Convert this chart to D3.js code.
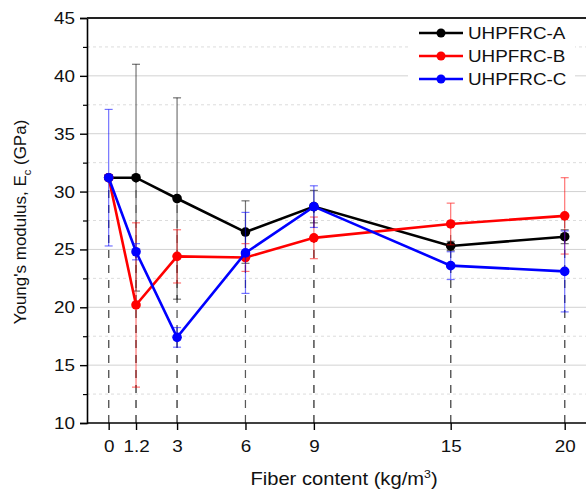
<!DOCTYPE html>
<html><head><meta charset="utf-8">
<script src="https://cdn.jsdelivr.net/npm/d3@7"></script>
<style>body{margin:0;background:#fff}svg{display:block}text{font-family:"Liberation Sans",Arial,sans-serif;fill:#111}</style>
</head><body><svg id="c" width="586" height="493"></svg>
<script>
const fiber = [0, 1.2, 3, 6, 9, 15, 20];
const xTickLabels = ["0", "1.2", "3", "6", "9", "15", "20"];
const yTicks = [10, 15, 20, 25, 30, 35, 40, 45];
const seriesNames = ["UHPFRC-A", "UHPFRC-B", "UHPFRC-C"];
const seriesColors = ["#000000", "#ff0000", "#0000ff"];
const valuesA = [31.2, 31.2, 29.4, 26.5, 28.7, 25.3, 26.1];
const errA    = [0, 9.8, 8.7, 2.7, 1.4, 0.4, 0.6];
const valuesB = [31.2, 20.2, 24.4, 24.3, 26.0, 27.2, 27.9];
const errB    = [0, 7.1, 2.3, 1.2, 1.8, 1.8, 3.3];
const valuesC = [31.2, 24.8, 17.4, 24.7, 28.7, 23.6, 23.1];
const errC    = [5.9, 0.7, 0.85, 3.5, 1.8, 1.2, 3.5];

const series = [
  {name: seriesNames[0], color: seriesColors[0], vals: valuesA, err: errA},
  {name: seriesNames[1], color: seriesColors[1], vals: valuesB, err: errB},
  {name: seriesNames[2], color: seriesColors[2], vals: valuesC, err: errC}
];

const svg = d3.select("#c");
const L = 87, R = 587.5, T = 18, B = 423;
const SX = 1.11; // horizontal text stretch
const x = d3.scaleLinear().domain([-0.95, 21]).range([L, R]);
const y = d3.scaleLinear().domain([10, 45]).range([B, T]);

// gridlines
const minor = d3.range(12.5, 45, 5);
svg.append("g").selectAll("line").data(minor).join("line")
  .attr("x1", L).attr("x2", 586).attr("y1", d => y(d)).attr("y2", d => y(d))
  .attr("stroke", "#dcdcdc").attr("stroke-width", 1).attr("stroke-dasharray", "3,3");
svg.append("g").selectAll("line").data(yTicks.filter(d => d > 10 && d < 45)).join("line")
  .attr("x1", L).attr("x2", 586).attr("y1", d => y(d)).attr("y2", d => y(d))
  .attr("stroke", "#d2d2d2").attr("stroke-width", 1);

// legend background
svg.append("rect").attr("x", 408).attr("y", 20).attr("width", 167).attr("height", 74).attr("fill", "#fff");

// drop lines
series.forEach(s => {
  svg.append("g").selectAll("line").data(fiber).join("line")
    .attr("x1", d => x(d)).attr("x2", d => x(d))
    .attr("y1", y(10)).attr("y2", (d, i) => y(s.vals[i]))
    .attr("stroke", "#555").attr("stroke-opacity", 0.75).attr("stroke-width", 1.1)
    .attr("stroke-dasharray", "8,7");
});

// axes
const yAxis = d3.axisLeft(y).tickValues(yTicks).tickSize(7).tickPadding(5).tickFormat(d3.format("d"));
const gy = svg.append("g").attr("transform", `translate(${L},0)`).call(yAxis);
gy.select(".domain").attr("stroke-width", 1.6);
gy.selectAll(".tick line").attr("stroke-width", 1.4);
gy.selectAll("text").attr("font-size", 17).attr("font-family", "Liberation Sans, Arial, sans-serif")
  .attr("x", -12 / SX).attr("transform", `scale(${SX},1)`);
const gyMinor = svg.append("g").attr("transform", `translate(${L},0)`)
  .call(d3.axisLeft(y).tickValues(minor).tickSize(4).tickFormat(""));
gyMinor.select(".domain").remove();
gyMinor.selectAll(".tick line").attr("stroke-width", 1.2);

const xAxis = d3.axisBottom(x).tickValues(fiber).tickSize(7).tickPadding(10)
  .tickFormat((d, i) => xTickLabels[i]);
const gx = svg.append("g").attr("transform", `translate(0,${B})`).call(xAxis);
gx.select(".domain").attr("stroke-width", 1.6).attr("d", `M${L},0H586`);
gx.selectAll(".tick line").attr("stroke-width", 1.4);
gx.selectAll("text").attr("font-size", 17).attr("font-family", "Liberation Sans, Arial, sans-serif")
  .attr("transform", `scale(${SX},1)`);

// top border
svg.append("line").attr("x1", L).attr("x2", 586).attr("y1", T).attr("y2", T)
  .attr("stroke", "#222").attr("stroke-width", 2);

// series
const line = d3.line().x((d, i) => x(fiber[i])).y(d => y(d));
series.forEach(s => {
  const g = svg.append("g");
  const eb = g.append("g").attr("stroke", s.color).attr("stroke-opacity", 0.55).attr("stroke-width", 1.2);
  fiber.forEach((f, i) => {
    if (!s.err[i]) return;
    const cx = x(f), top = y(s.vals[i] + s.err[i]), bot = y(s.vals[i] - s.err[i]);
    eb.append("line").attr("x1", cx).attr("x2", cx).attr("y1", top).attr("y2", bot);
    eb.append("line").attr("x1", cx - 4).attr("x2", cx + 4).attr("y1", top).attr("y2", top);
    eb.append("line").attr("x1", cx - 4).attr("x2", cx + 4).attr("y1", bot).attr("y2", bot);
  });
  g.append("path").attr("d", line(s.vals)).attr("fill", "none").attr("stroke", s.color).attr("stroke-width", 2.6);
  g.selectAll("circle").data(s.vals).join("circle")
    .attr("cx", (d, i) => x(fiber[i])).attr("cy", d => y(d)).attr("r", 4.8).attr("fill", s.color);
});

// legend
const lg = svg.append("g");
series.forEach((s, i) => {
  const ly = 33 + i * 23;
  lg.append("line").attr("x1", 419).attr("x2", 463).attr("y1", ly).attr("y2", ly).attr("stroke", s.color).attr("stroke-width", 2.6);
  lg.append("circle").attr("cx", 441).attr("cy", ly).attr("r", 4.5).attr("fill", s.color);
  lg.append("text").attr("transform", `translate(468,${ly + 6}) scale(${SX},1)`).attr("font-size", 17).text(s.name);
});

// axis titles
const xt = svg.append("text").attr("transform", `translate(344,485) scale(1.12,1)`).attr("text-anchor", "middle").attr("font-size", 18);
xt.append("tspan").text("Fiber content (kg/m");
xt.append("tspan").attr("dy", -7).attr("font-size", 11).text("3");
xt.append("tspan").attr("dy", 7).text(")");

const yt = svg.append("text").attr("transform", "translate(26,222) rotate(-90)").attr("text-anchor", "middle").attr("font-size", 17);
yt.append("tspan").text("Young's modulus, E");
yt.append("tspan").attr("dy", 5).attr("font-size", 11).text("c");
yt.append("tspan").attr("dy", -5).text(" (GPa)");
</script></body></html>
